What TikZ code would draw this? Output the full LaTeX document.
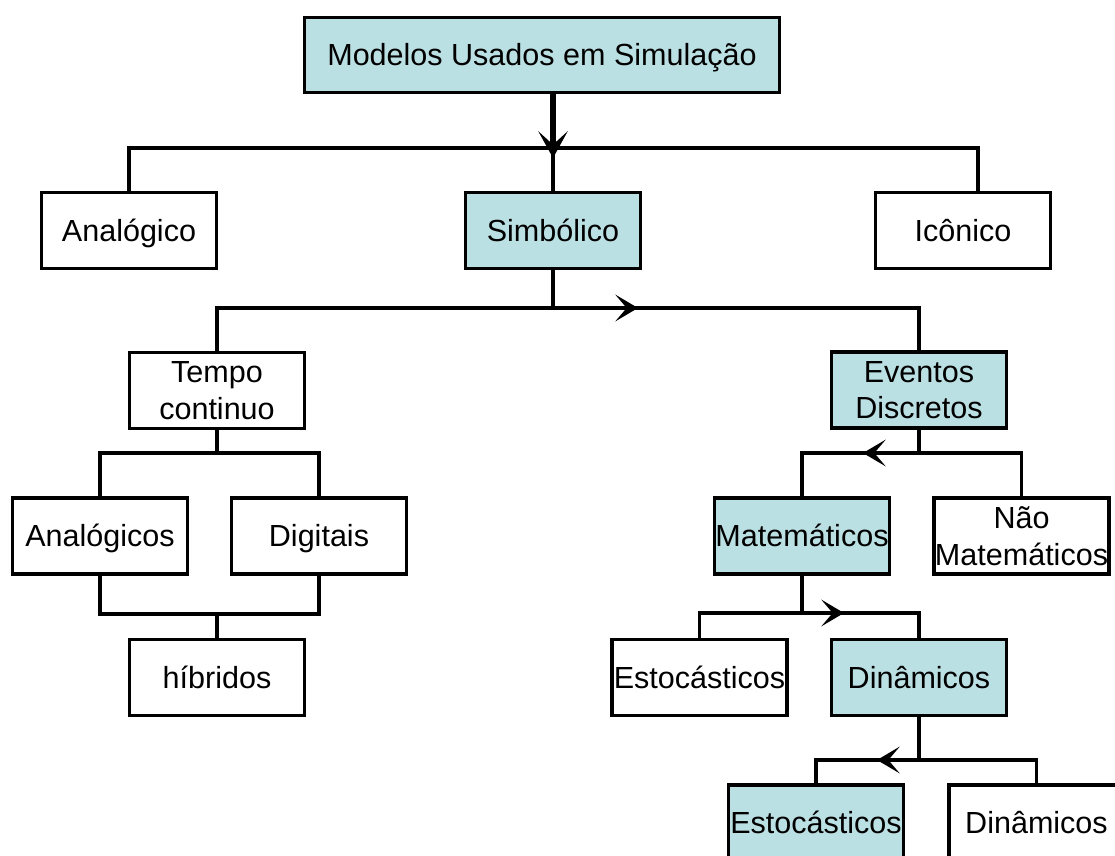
\documentclass[tikz,border=0pt]{standalone}
\usepackage{fontspec}
\setmainfont{Liberation Sans}
\usetikzlibrary{arrows.meta,calc}
\definecolor{boxfill}{RGB}{187,224,227}
\begin{document}
\begin{tikzpicture}[x=0.75pt,y=-0.75pt,
  every node/.style={font=\fontsize{22.9}{27.5}\selectfont},
  box/.style={draw=black, line width=2.4pt, fill=white, minimum width=131.25pt, minimum height=57pt, inner sep=0pt},
  onel/.style={text height=16.4pt, text depth=0pt},
  twol/.style={align=center},
  hl/.style={fill=boxfill},
  conn/.style={draw=black, line width=2.3pt},
  bigarrow/.style={draw=black, line width=3.8pt, -{Stealth[length=20pt,width=22pt,inset=10pt]}},
  midarrow/.style={draw=black, line width=2.3pt, -{Stealth[length=17pt,width=20pt,inset=8.5pt]}},
]
\useasboundingbox (0,0) rectangle (1115,856);
\clip (0,0) rectangle (1115,856);
\fill[white] (0,0) rectangle (1115,856);

% nodes
\node[box,hl,onel,minimum width=356pt,minimum height=56pt] (top) at (542,55) {Modelos Usados em Simulação};
\node[box,onel] (anal) at (129,230.5) {Analógico};
\node[box,hl,onel] (simb) at (553,230.5) {Simbólico};
\node[box,onel] (icon) at (963,230.5) {Icônico};
\node[box,twol] (tempo) at (217,390.5) {Tempo\\continuo};
\node[box,hl,twol] (event) at (919,390) {Eventos\\Discretos};
\node[box,onel] (analc) at (100,536) {Analógicos};
\node[box,onel] (digi) at (319,536) {Digitais};
\node[box,hl,onel] (mate) at (802,536) {Matemáticos};
\node[box,twol] (nmat) at (1021.5,536) {Não\\Matemáticos};
\node[box,onel] (hibr) at (217,677.5) {híbridos};
\node[box,onel] (esto) at (699.5,677.5) {Estocásticos};
\node[box,hl,onel] (dina) at (919,677.5) {Dinâmicos};
\node[box,hl,onel] (esto2) at (816,823) {Estocásticos};
\node[box,onel] (dina2) at (1036.5,823) {Dinâmicos};

% junctions
\coordinate (j1) at (553,148);
\coordinate (j2) at (553,308);
\coordinate (j3) at (217,453);
\coordinate (j4) at (217,614);
\coordinate (j5) at (919,453);
\coordinate (j6) at (802,613);
\coordinate (j7) at (919,760);

% connectors
\draw[conn] (anal.north) |- (j1) -| ($(icon.north)+(15,0)$);
\draw[conn] (j1) -- (simb.north);
\draw[bigarrow] ($(top.south)+(11,0)$) -- ($(j1)+(0,10)$);

\draw[conn] (simb.south) -- (j2);
\draw[conn] (tempo.north) |- (j2) -| (event.north);
\draw[midarrow] ($(j2)+(50,0)$) -- ($(j2)+(85,0)$);

\draw[conn] (tempo.south) -- (j3);
\draw[conn] (analc.north) |- (j3) -| (digi.north);
\draw[conn] (analc.south) |- (j4) -| (digi.south);
\draw[conn] (j4) -- (hibr.north);

\draw[conn] (event.south) -- (j5);
\draw[conn] (mate.north) |- (j5) -| (nmat.north);
\draw[midarrow] ($(j5)+(-15,0)$) -- ($(j5)+(-56,0)$);

\draw[conn] (mate.south) -- (j6);
\draw[conn] (esto.north) |- (j6) -| (dina.north);
\draw[midarrow] ($(j6)+(5,0)$) -- ($(j6)+(42,0)$);

\draw[conn] (dina.south) -- (j7);
\draw[conn] (esto2.north) |- (j7) -| (dina2.north);
\draw[midarrow] ($(j7)+(-5,0)$) -- ($(j7)+(-42,0)$);
\end{tikzpicture}
\end{document}
